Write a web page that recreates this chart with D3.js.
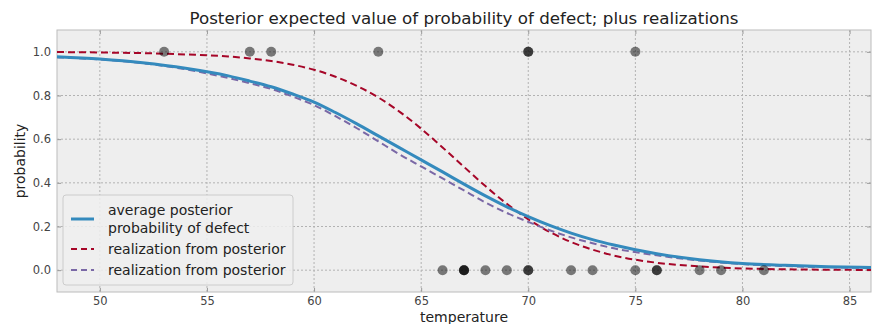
<!DOCTYPE html>
<html>
<head>
<meta charset="utf-8">
<script src="https://cdn.jsdelivr.net/npm/d3@7"></script>
<style>
  body { margin: 0; background: #fff; }
  text { font-family: "DejaVu Sans", sans-serif; }
</style>
</head>
<body>
<svg id="chart" width="872" height="324"></svg>
<script>
// observed launches: temperature and whether a defect happened
var temperature = [66, 70, 69, 68, 67, 72, 73, 70, 57, 63, 70, 78, 67, 53, 67, 75, 70, 81, 76, 79, 75, 76, 58];
var defect      = [0, 1, 0, 0, 0, 0, 0, 0, 1, 1, 1, 0, 0, 1, 0, 0, 0, 0, 0, 0, 1, 0, 1];

// curve samples
var tGrid  = [48, 50, 52, 54, 56, 57, 58, 59, 60, 61, 62, 63, 64, 65, 66, 67, 68, 69, 70, 71, 72, 73, 74, 76, 78, 80, 82, 84, 86];
var meanP  = [0.978, 0.967, 0.95, 0.925, 0.89, 0.866, 0.84, 0.807, 0.77, 0.722, 0.67, 0.615, 0.56, 0.505, 0.45, 0.394, 0.34, 0.29, 0.245, 0.205, 0.17, 0.14, 0.115, 0.075, 0.048, 0.031, 0.022, 0.016, 0.012];
var realP1 = [0.999, 0.997, 0.994, 0.988, 0.979, 0.97, 0.958, 0.941, 0.918, 0.886, 0.844, 0.791, 0.725, 0.648, 0.562, 0.473, 0.385, 0.304, 0.233, 0.175, 0.129, 0.094, 0.067, 0.034, 0.017, 0.008, 0.004, 0.002, 0.001];
var realP2 = [0.975, 0.965, 0.948, 0.92, 0.88, 0.856, 0.83, 0.795, 0.756, 0.705, 0.65, 0.59, 0.53, 0.475, 0.42, 0.365, 0.31, 0.262, 0.221, 0.183, 0.15, 0.123, 0.1, 0.068, 0.044, 0.028, 0.019, 0.013, 0.01];

var xTicks = [50, 55, 60, 65, 70, 75, 80, 85];
var yTicks = [0.0, 0.2, 0.4, 0.6, 0.8, 1.0];

var svg = d3.select("#chart"),
    margin = {top: 30, right: 1, bottom: 32, left: 57},
    width = +svg.attr("width") - margin.left - margin.right,
    height = +svg.attr("height") - margin.top - margin.bottom;

var x = d3.scaleLinear().domain([48, 86]).range([0, width]);
var y = d3.scaleLinear().domain([-0.1, 1.1]).range([height, 0]);

var g = svg.append("g").attr("transform", "translate(" + margin.left + "," + margin.top + ")");

g.append("rect")
    .attr("width", width)
    .attr("height", height)
    .attr("fill", "#eeeeee");

// grid
g.append("g").selectAll("line")
    .data(xTicks)
    .enter().append("line")
      .attr("x1", function(d) { return x(d); })
      .attr("x2", function(d) { return x(d); })
      .attr("y1", 0).attr("y2", height)
      .attr("stroke", "#b2b2b2")
      .attr("stroke-dasharray", "2,2");

g.append("g").selectAll("line")
    .data(yTicks)
    .enter().append("line")
      .attr("y1", function(d) { return y(d); })
      .attr("y2", function(d) { return y(d); })
      .attr("x1", 0).attr("x2", width)
      .attr("stroke", "#b2b2b2")
      .attr("stroke-dasharray", "2,2");

// axes (ticks pointing inward)
var xAxis = g.append("g")
    .attr("transform", "translate(0," + height + ")")
    .call(d3.axisBottom(x).tickValues(xTicks).tickSizeInner(-4).tickSizeOuter(0).tickPadding(5).tickFormat(d3.format("d")));
var xTop = g.append("g")
    .call(d3.axisTop(x).tickValues(xTicks).tickSizeInner(-4).tickSizeOuter(0).tickFormat(""));
var yAxis = g.append("g")
    .call(d3.axisLeft(y).tickValues(yTicks).tickSizeInner(-4).tickSizeOuter(0).tickPadding(6).tickFormat(d3.format(".1f")));
var yRight = g.append("g")
    .attr("transform", "translate(" + width + ",0)")
    .call(d3.axisRight(y).tickValues(yTicks).tickSizeInner(-4).tickSizeOuter(0).tickFormat(""));

[xAxis, xTop, yAxis, yRight].forEach(function(a) {
  a.select(".domain").remove();
  a.selectAll(".tick line").attr("stroke", "#999999");
  a.selectAll("text").attr("fill", "#444444").attr("font-size", 11.5).attr("font-family", "DejaVu Sans, sans-serif");
});

g.append("rect")
    .attr("width", width)
    .attr("height", height)
    .attr("fill", "none")
    .attr("stroke", "#bcbcbc");

// curves
var data = tGrid.map(function(t, i) { return {t: t, mean: meanP[i], r1: realP1[i], r2: realP2[i]}; });

function lineFor(key) {
  return d3.line()
      .x(function(d) { return x(d.t); })
      .y(function(d) { return y(d[key]); })
      .curve(d3.curveMonotoneX);
}

var plot = g.append("g");

plot.append("path")
    .datum(data)
    .attr("fill", "none")
    .attr("stroke", "#A60628")
    .attr("stroke-width", 2)
    .attr("stroke-dasharray", "7,4")
    .attr("d", lineFor("r1"));

plot.append("path")
    .datum(data)
    .attr("fill", "none")
    .attr("stroke", "#7A68A6")
    .attr("stroke-width", 2)
    .attr("stroke-dasharray", "7,4")
    .attr("d", lineFor("r2"));

plot.append("path")
    .datum(data)
    .attr("fill", "none")
    .attr("stroke", "#348ABD")
    .attr("stroke-width", 3)
    .attr("d", lineFor("mean"));

plot.append("g").selectAll("circle")
    .data(temperature)
    .enter().append("circle")
      .attr("cx", function(d) { return x(d); })
      .attr("cy", function(d, i) { return y(defect[i]); })
      .attr("r", 5)
      .attr("fill", "#000")
      .attr("fill-opacity", 0.5);

// legend
var legendItems = [
  {label: ["average posterior", "probability of defect"], color: "#348ABD", dash: null, w: 3},
  {label: ["realization from posterior"], color: "#A60628", dash: "6,4", w: 2},
  {label: ["realization from posterior"], color: "#7A68A6", dash: "6,4", w: 2}
];

var legend = g.append("g").attr("transform", "translate(6,165)");
legend.append("rect")
    .attr("width", 230)
    .attr("height", 90)
    .attr("rx", 3)
    .attr("fill", "#eeeeee")
    .attr("fill-opacity", 0.85)
    .attr("stroke", "#cccccc");

var rowY = [24, 54, 75];
legendItems.forEach(function(d, i) {
  var row = legend.append("g").attr("transform", "translate(0," + rowY[i] + ")");
  row.append("line")
      .attr("x1", 8).attr("x2", 31)
      .attr("stroke", d.color)
      .attr("stroke-width", d.w)
      .attr("stroke-dasharray", d.dash);
  d.label.forEach(function(s, j) {
    row.append("text")
        .attr("x", 45)
        .attr("y", (j - (d.label.length - 1) / 2) * 18)
        .attr("dy", "0.35em")
        .attr("font-size", 14)
        .attr("fill", "#222")
        .text(s);
  });
});

// titles
svg.append("text")
    .attr("x", margin.left + width / 2)
    .attr("y", 18)
    .attr("dy", "0.35em")
    .attr("text-anchor", "middle")
    .attr("font-size", 16.7)
    .attr("fill", "#222")
    .text("Posterior expected value of probability of defect; plus realizations");

svg.append("text")
    .attr("x", margin.left + width / 2)
    .attr("y", 318)
    .attr("dy", "0.32em")
    .attr("text-anchor", "middle")
    .attr("font-size", 14)
    .attr("fill", "#222")
    .text("temperature");

svg.append("text")
    .attr("transform", "translate(20," + (margin.top + height / 2) + ") rotate(-90)")
    .attr("dy", "0.35em")
    .attr("text-anchor", "middle")
    .attr("font-size", 14)
    .attr("fill", "#222")
    .text("probability");
</script>
</body>
</html>
